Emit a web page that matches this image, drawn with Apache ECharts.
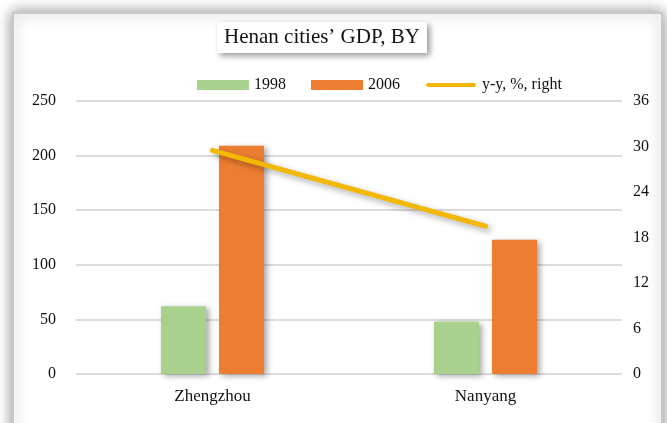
<!DOCTYPE html>
<html>
<head>
<meta charset="utf-8">
<script src="https://cdn.jsdelivr.net/npm/echarts@6/dist/echarts.min.js"></script>
<style>
  html, body { margin: 0; padding: 0; background: #fff; }
  #chart { width: 667px; height: 423px; }
</style>
</head>
<body>
<div id="chart"></div>
<script>
// data
const categories = ['Zhengzhou', 'Nanyang'];
const gdp1998 = [62, 48];
const gdp2006 = [209, 123];
const growthYY = [29.5, 19.5];   // right axis, %
const leftMax = 250, leftStep = 50;
const rightMax = 36, rightStep = 6;

const serif = '"Liberation Serif", "Times New Roman", serif';
// thick rounded line for the legend; the two empty subpaths only fix the box to 52x10
const lineIcon = 'path://M0,0 L1,0 Z M51,10 L52,10 Z M3,3 H49 A2,2 0 0 1 49,7 H3 A2,2 0 0 1 3,3 Z';
const chart = echarts.init(document.getElementById('chart'));

chart.setOption({
  backgroundColor: '#ffffff',
  animation: false,
  graphic: [{
    type: 'rect',
    z: -10,
    shape: { x: 13, y: 13, width: 649, height: 430 },
    style: {
      fill: '#ffffff',
      stroke: '#c8c8c8',
      lineWidth: 2,
      shadowBlur: 14,
      shadowColor: 'rgba(0,0,0,0.45)'
    }
  }],
  title: {
    text: 'Henan cities’ GDP, BY',
    left: 217,
    top: 22,
    padding: [5, 7, 5, 7],
    backgroundColor: '#ffffff',
    shadowBlur: 6,
    shadowColor: 'rgba(0,0,0,0.4)',
    shadowOffsetX: 3,
    shadowOffsetY: 3,
    textStyle: { fontFamily: serif, fontSize: 21, fontWeight: 'normal', color: '#111' }
  },
  legend: {
    left: 197,
    top: 77,
    padding: 0,
    itemWidth: 52,
    itemHeight: 10,
    itemGap: 25,
    textStyle: { fontFamily: serif, fontSize: 16, color: '#111' },
    data: [
      { name: '1998', icon: 'rect' },
      { name: '2006', icon: 'rect' },
      { name: 'y-y, %, right', icon: lineIcon, itemStyle: { color: '#f2b800' } }
    ]
  },
  grid: { left: 76, right: 45, top: 101, bottom: 49 },
  xAxis: {
    type: 'category',
    data: categories,
    axisLine: { show: false },
    axisTick: { show: false },
    axisLabel: { fontFamily: serif, fontSize: 17, color: '#111', margin: 14 }
  },
  yAxis: [{
    type: 'value',
    min: 0, max: leftMax, interval: leftStep,
    axisLine: { show: false },
    axisTick: { show: false },
    axisLabel: { fontFamily: serif, fontSize: 16, color: '#111', margin: 20 },
    splitLine: { lineStyle: { color: '#dcdcdc', width: 2 } }
  }, {
    type: 'value',
    min: 0, max: rightMax, interval: rightStep,
    position: 'right',
    axisLine: { show: false },
    axisTick: { show: false },
    axisLabel: { fontFamily: serif, fontSize: 16, color: '#111', margin: 11 },
    splitLine: { show: false }
  }],
  series: [{
    name: '1998',
    type: 'bar',
    data: gdp1998,
    barWidth: 45,
    barGap: '29%',
    itemStyle: {
      color: '#a9d18e',
      shadowBlur: 6, shadowColor: 'rgba(0,0,0,0.35)', shadowOffsetX: 3, shadowOffsetY: 2
    }
  }, {
    name: '2006',
    type: 'bar',
    data: gdp2006,
    barWidth: 45,
    itemStyle: {
      color: '#ed7d31',
      shadowBlur: 6, shadowColor: 'rgba(0,0,0,0.35)', shadowOffsetX: 3, shadowOffsetY: 2
    }
  }, {
    name: 'y-y, %, right',
    type: 'line',
    yAxisIndex: 1,
    data: growthYY,
    symbol: 'none',
    z: 5,
    itemStyle: { color: '#f2b800' },
    lineStyle: {
      color: '#f2b800', width: 5, cap: 'round',
      shadowBlur: 6, shadowColor: 'rgba(0,0,0,0.35)', shadowOffsetX: 3, shadowOffsetY: 3
    }
  }]
});
</script>
</body>
</html>
